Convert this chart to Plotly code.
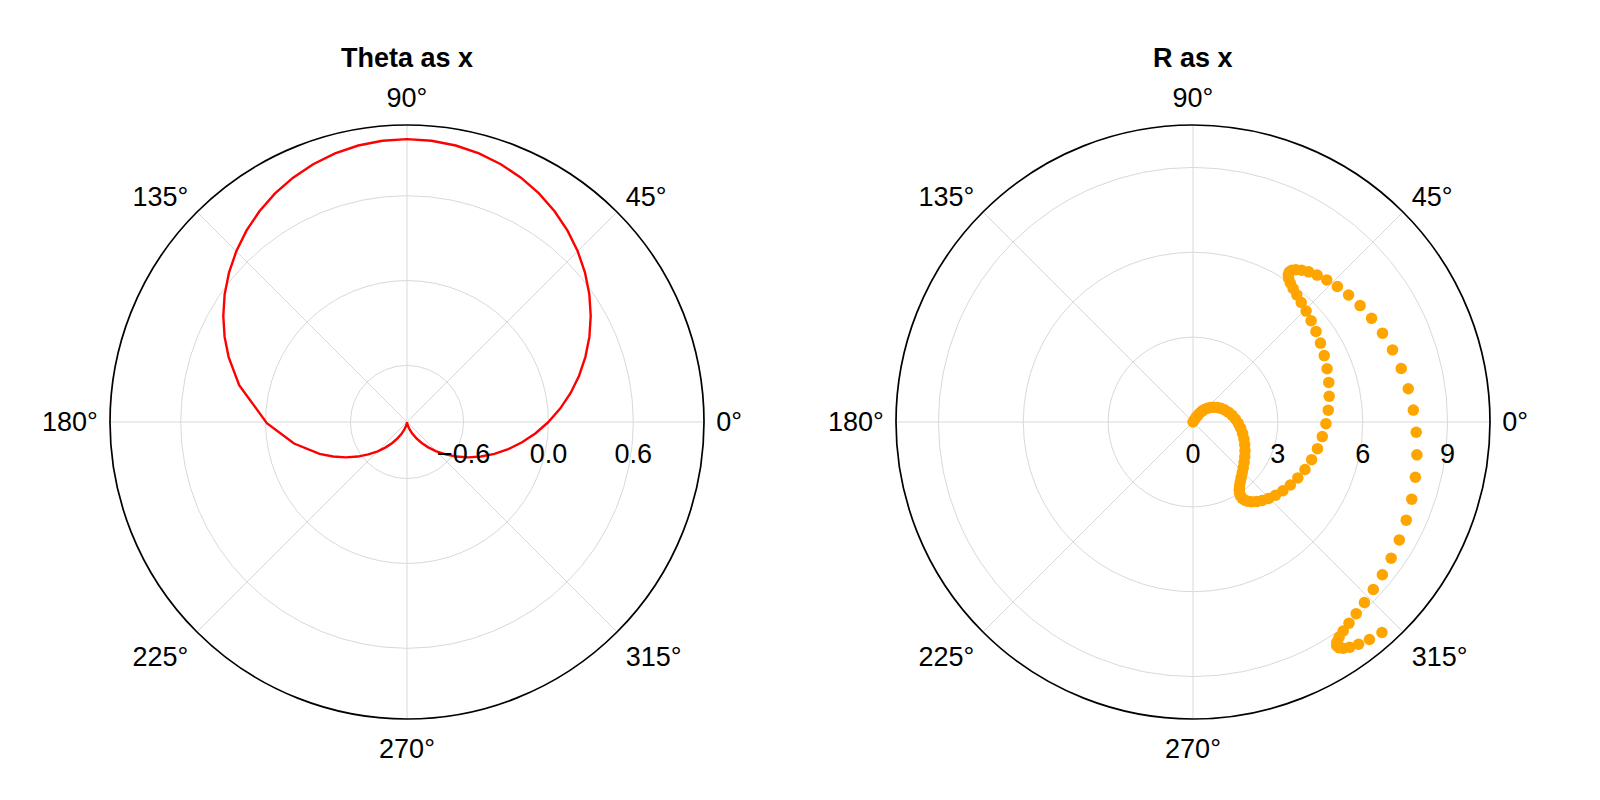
import plotly.graph_objects as go

# ---- Left panel: "Theta as x" (theta in degrees, r) ----
left_theta_deg = [0, 5, 10, 15, 20, 25, 30, 35, 40, 45, 50, 55, 60, 65, 70, 75, 80, 85, 90,
                  95, 100, 105, 110, 115, 120, 125, 130, 135, 140, 145, 150, 155, 160,
                  167.6, 180.5, 190.8, 200, 205, 210, 215, 220, 225, 230, 235, 240, 245, 250,
                  255, 260, 265, 270, 275, 280, 285, 290, 295, 300, 305, 310, 315, 320, 325,
                  330, 335, 340, 345, 350, 355, 360]
left_r = [0.0, 0.087, 0.174, 0.259, 0.342, 0.423, 0.5, 0.574, 0.643, 0.707, 0.766, 0.819,
          0.866, 0.906, 0.94, 0.966, 0.985, 0.996, 1.0,
          0.996, 0.985, 0.966, 0.94, 0.906, 0.866, 0.819, 0.766, 0.707, 0.643, 0.574, 0.5,
          0.423, 0.342,
          0.215, -0.009, -0.187, -0.342, -0.423, -0.5, -0.574, -0.643, -0.707, -0.766,
          -0.819, -0.866, -0.906, -0.94,
          -0.966, -0.985, -0.996, -1.0, -0.996, -0.985, -0.966, -0.94, -0.906, -0.866,
          -0.819, -0.766, -0.707, -0.643, -0.574,
          -0.5, -0.423, -0.342, -0.259, -0.174, -0.087, 0.0]

# ---- Right panel: "R as x" (r, theta in radians) ----
right_r = [0.0, 0.1, 0.2, 0.3, 0.4, 0.5, 0.6, 0.7, 0.8, 0.9,
           1.0, 1.1, 1.2, 1.3, 1.4, 1.5, 1.6, 1.7, 1.8, 1.9,
           2.0, 2.1, 2.2, 2.3, 2.4, 2.5, 2.6, 2.7, 2.8, 2.9,
           3.0, 3.1, 3.2, 3.3, 3.4, 3.5, 3.6, 3.7, 3.8, 3.9,
           4.0, 4.1, 4.2, 4.3, 4.4, 4.5, 4.6, 4.7, 4.8, 4.9,
           5.0, 5.1, 5.2, 5.3, 5.4, 5.5, 5.6, 5.7, 5.8, 5.9,
           6.0, 6.1, 6.2, 6.3, 6.4, 6.5, 6.6, 6.7, 6.8, 6.9,
           7.0, 7.1, 7.2, 7.3, 7.4, 7.5, 7.6, 7.7, 7.8, 7.9,
           8.0, 8.1, 8.2, 8.3, 8.4, 8.5, 8.6, 8.7, 8.8, 8.9,
           9.0, 9.1, 9.2, 9.3, 9.4, 9.5, 9.6, 9.7, 9.8, 9.9, 10.0]
right_theta_rad = [1.0, 0.995, 0.9801, 0.9553, 0.9211, 0.8776, 0.8253, 0.7648, 0.6967, 0.6216,
                   0.5403, 0.4536, 0.3624, 0.2675, 0.17, 0.0707, -0.0292, -0.1288, -0.2272, -0.3233,
                   -0.4161, -0.5048, -0.5885, -0.6663, -0.7374, -0.8011, -0.8569, -0.9041, -0.9422, -0.971,
                   -0.99, -0.9991, -0.9983, -0.9875, -0.9668, -0.9365, -0.8968, -0.8481, -0.791, -0.7259,
                   -0.6536, -0.5748, -0.4903, -0.4008, -0.3073, -0.2108, -0.1122, -0.0124, 0.0875, 0.1865,
                   0.2837, 0.378, 0.4685, 0.5544, 0.6347, 0.7087, 0.7756, 0.8347, 0.8855, 0.9275,
                   0.9602, 0.9833, 0.9965, 0.9999, 0.9932, 0.9766, 0.9502, 0.9144, 0.8694, 0.8157,
                   0.7539, 0.6845, 0.6084, 0.5261, 0.4385, 0.3466, 0.2513, 0.1534, 0.054, -0.046,
                   -0.1455, -0.2435, -0.3392, -0.4314, -0.5193, -0.602, -0.6787, -0.7486, -0.8111, -0.8654,
                   -0.9111, -0.9477, -0.9748, -0.9922, -0.9997, -0.9972, -0.9847, -0.9624, -0.9304, -0.8892,
                   -0.8391]

angle_ticks = [0, 45, 90, 135, 180, 225, 270, 315]
angle_labels = ["0°", "45°", "90°", "135°", "180°", "225°", "270°", "315°"]
left_rticks = [-0.6, 0.0, 0.6]
left_rlabels = ["−0.6", "0.0", "0.6"]
right_rticks = [0, 3, 6, 9]
right_rlabels = ["0", "3", "6", "9"]

FONT = "Liberation Sans"
FS = 27
GRID = "#d9d9d9"
CLEAR = "rgba(0,0,0,0)"

fig = go.Figure()
fig.add_trace(go.Scatterpolar(r=left_r, theta=left_theta_deg, mode="lines",
                              line=dict(color="#ff0000", width=2.4), subplot="polar",
                              showlegend=False))
fig.add_trace(go.Scatterpolar(r=right_r, theta=right_theta_rad, thetaunit="radians",
                              mode="markers", marker=dict(color="#ffa500", size=11.5),
                              subplot="polar2", showlegend=False))


def angular():
    return dict(tickmode="array", tickvals=angle_ticks, ticktext=angle_labels,
                direction="counterclockwise", rotation=0, showline=True, linecolor="black",
                linewidth=1.7, showgrid=True, gridcolor=GRID, gridwidth=1.3,
                ticks="outside", ticklen=6, tickcolor=CLEAR,
                tickfont=dict(family=FONT, size=FS, color="black"))


def radial(rng, vals, labels):
    return dict(range=rng, tickmode="array", tickvals=vals, ticktext=labels, angle=0,
                side="clockwise", showline=False, ticks="outside", ticklen=8,
                tickcolor=CLEAR, showgrid=True, gridcolor=GRID, gridwidth=1.3,
                tickfont=dict(family=FONT, size=FS, color="black"))


cy0 = 1 - 719 / 800
cy1 = 1 - 125 / 800
fig.update_layout(
    width=1600, height=800,
    margin=dict(l=0, r=0, t=0, b=0),
    paper_bgcolor="white",
    font=dict(family=FONT, size=FS, color="black"),
    polar=dict(
        domain=dict(x=[(407 - 297) / 1600, (407 + 297) / 1600], y=[cy0, cy1]),
        bgcolor="white",
        radialaxis=radial([-1, 1.1], left_rticks, left_rlabels),
        angularaxis=angular(),
    ),
    polar2=dict(
        domain=dict(x=[(1193 - 297) / 1600, (1193 + 297) / 1600], y=[cy0, cy1]),
        bgcolor="white",
        radialaxis=radial([0, 10.5], right_rticks, right_rlabels),
        angularaxis=angular(),
    ),
    annotations=[
        dict(text="Theta as x", x=407 / 1600, y=1 - 58 / 800, xref="paper", yref="paper",
             showarrow=False, xanchor="center", yanchor="middle",
             font=dict(family=FONT, size=FS, color="black", weight="bold")),
        dict(text="R as x", x=1193 / 1600, y=1 - 58 / 800, xref="paper", yref="paper",
             showarrow=False, xanchor="center", yanchor="middle",
             font=dict(family=FONT, size=FS, color="black", weight="bold")),
    ],
)

fig.write_html("out.html", config={"displayModeBar": False},
               post_script="document.body.style.margin='0';")
